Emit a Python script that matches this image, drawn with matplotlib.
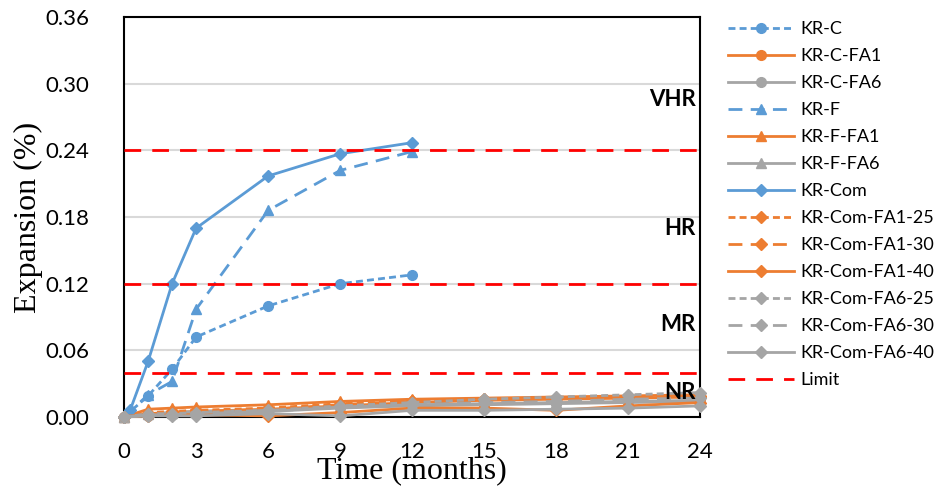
import matplotlib
matplotlib.use("Agg")
import matplotlib.pyplot as plt

# months
t_short = [0, 1, 2, 3, 6, 9, 12]
t_com = [0, 0.25, 1, 2, 3, 6, 9, 12]
t_long = [0, 1, 2, 3, 6, 9, 12, 15, 18, 21, 24]

# expansion (%)
kr_c = [0, 0.019, 0.043, 0.072, 0.100, 0.120, 0.128]
kr_f = [0, 0.020, 0.032, 0.097, 0.186, 0.222, 0.239]
kr_com = [0, 0.006, 0.050, 0.120, 0.170, 0.217, 0.237, 0.247]

kr_c_fa1 = [0, 0.002, 0.004, 0.005, 0.007, 0.010, 0.013, 0.015, 0.016, 0.017, 0.018]
kr_c_fa6 = [0, 0.001, 0.002, 0.003, 0.005, 0.008, 0.010, 0.011, 0.012, 0.013, 0.014]
kr_f_fa1 = [0, 0.007, 0.008, 0.009, 0.011, 0.014, 0.016, 0.017, 0.018, 0.019, 0.020]
kr_f_fa6 = [0, 0.003, 0.004, 0.005, 0.006, 0.009, 0.011, 0.012, 0.013, 0.014, 0.015]
kr_com_fa1_25 = [0, 0.004, 0.005, 0.006, 0.008, 0.012, 0.014, 0.016, 0.017, 0.018, 0.019]
kr_com_fa1_30 = [0, 0.003, 0.004, 0.005, 0.007, 0.011, 0.014, 0.015, 0.016, 0.017, 0.018]
kr_com_fa1_40 = [0, 0.001, 0.002, 0.002, 0.001, 0.004, 0.008, 0.008, 0.006, 0.010, 0.013]
kr_com_fa6_25 = [0, 0.003, 0.003, 0.004, 0.006, 0.010, 0.013, 0.016, 0.018, 0.020, 0.022]
kr_com_fa6_30 = [0, 0.002, 0.002, 0.003, 0.005, 0.009, 0.011, 0.013, 0.014, 0.016, 0.017]
kr_com_fa6_40 = [0, 0.001, 0.001, 0.001, 0.003, 0.001, 0.006, 0.006, 0.007, 0.008, 0.010]

limits = [0.24, 0.12, 0.04]
zones = ["VHR", "HR", "MR", "NR"]
zone_y = [0.286, 0.170, 0.083, 0.022]

BLUE, ORANGE, GRAY, RED = "#5B9BD5", "#ED7D31", "#A5A5A5", "#FF0000"
SHORT = (0, (2.5, 1.5))
LONG = (0, (5, 3))

series = [
    ("KR-C", t_short, kr_c, BLUE, SHORT, "o", 7),
    ("KR-C-FA1", t_long, kr_c_fa1, ORANGE, "-", "o", 7),
    ("KR-C-FA6", t_long, kr_c_fa6, GRAY, "-", "o", 7),
    ("KR-F", t_short, kr_f, BLUE, LONG, "^", 7),
    ("KR-F-FA1", t_long, kr_f_fa1, ORANGE, "-", "^", 7),
    ("KR-F-FA6", t_long, kr_f_fa6, GRAY, "-", "^", 7),
    ("KR-Com", t_com, kr_com, BLUE, "-", "D", 6),
    ("KR-Com-FA1-25", t_long, kr_com_fa1_25, ORANGE, SHORT, "D", 6),
    ("KR-Com-FA1-30", t_long, kr_com_fa1_30, ORANGE, LONG, "D", 6),
    ("KR-Com-FA1-40", t_long, kr_com_fa1_40, ORANGE, "-", "D", 6),
    ("KR-Com-FA6-25", t_long, kr_com_fa6_25, GRAY, SHORT, "D", 6),
    ("KR-Com-FA6-30", t_long, kr_com_fa6_30, GRAY, LONG, "D", 6),
    ("KR-Com-FA6-40", t_long, kr_com_fa6_40, GRAY, "-", "D", 6),
]

fig = plt.figure(figsize=(9.4, 4.9), dpi=100)
ax = fig.add_axes([0.132, 0.149, 0.613, 0.816])

for label, x, y, color, ls, marker, ms in series:
    ax.plot(x, y, color=color, linestyle=ls, lw=2, marker=marker, ms=ms,
            label=label, clip_on=False, zorder=3)

for i, lim in enumerate(limits):
    ax.axhline(lim, color=RED, lw=2, linestyle=(0, (6, 4)),
               label="Limit" if i == 0 else None, zorder=4)

for name, yv in zip(zones, zone_y):
    ax.text(23.8, yv, name, ha="right", va="center", fontsize=16,
            fontweight="bold", family="Lato", zorder=5)

ax.set_xlim(0, 24)
ax.set_ylim(0, 0.36)
ax.set_xticks(range(0, 25, 3))
ax.set_yticks([0, 0.06, 0.12, 0.18, 0.24, 0.30, 0.36])
ax.set_yticklabels([f"{v:.2f}" for v in ax.get_yticks()])
ax.yaxis.grid(True, color="#D9D9D9", lw=1.5, zorder=0)
ax.set_axisbelow(True)
ax.tick_params(length=0, labelsize=16)
ax.tick_params(axis="x", pad=18)
ax.tick_params(axis="y", pad=25)
for lbl in ax.get_xticklabels() + ax.get_yticklabels():
    lbl.set_family("Lato")
for sp in ax.spines.values():
    sp.set_linewidth(1.5)
    sp.set_color("black")

ax.set_xlabel("Time (months)", family="Liberation Serif", fontsize=23, labelpad=-4)
ax.set_ylabel("Expansion (%)", family="Liberation Serif", fontsize=23, labelpad=2)

ax.legend(loc="upper left", bbox_to_anchor=(1.035, 1.008), frameon=False,
          prop={"family": "Lato", "size": 13}, handlelength=3.65,
          labelspacing=0.61, handletextpad=0.4, borderaxespad=0.0)

fig.savefig("out.png", dpi=100)
